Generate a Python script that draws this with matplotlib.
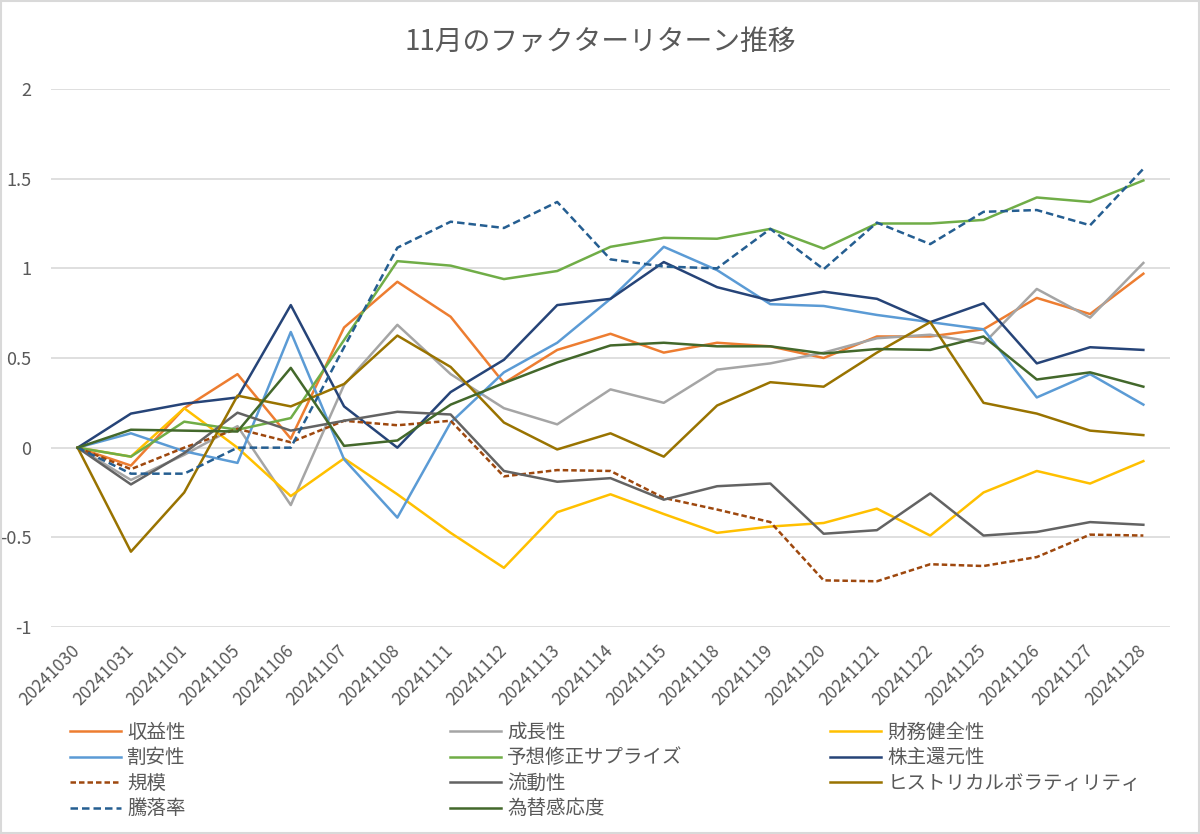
import matplotlib
matplotlib.use("Agg")
import matplotlib.pyplot as plt
from matplotlib.patches import Rectangle

plt.rcParams['font.family'] = ['Noto Sans CJK JP', 'DejaVu Sans']

dates = ['20241030', '20241031', '20241101', '20241105', '20241106', '20241107',
         '20241108', '20241111', '20241112', '20241113', '20241114', '20241115',
         '20241118', '20241119', '20241120', '20241121', '20241122', '20241125',
         '20241126', '20241127', '20241128']

# factor returns
shueki = [0, -0.10, 0.22, 0.41, 0.05, 0.67, 0.925, 0.73, 0.36, 0.545, 0.635,
          0.53, 0.585, 0.565, 0.50, 0.62, 0.62, 0.66, 0.835, 0.745, 0.97]
seicho = [0, -0.18, -0.04, 0.12, -0.32, 0.35, 0.685, 0.41, 0.22, 0.13, 0.325,
          0.25, 0.435, 0.47, 0.53, 0.61, 0.63, 0.58, 0.885, 0.725, 1.03]
zaimu = [0, -0.05, 0.22, 0.0, -0.27, -0.06, -0.26, -0.475, -0.67, -0.36, -0.26,
         -0.37, -0.475, -0.44, -0.42, -0.34, -0.49, -0.25, -0.13, -0.20, -0.075]
wariyasu = [0, 0.08, -0.02, -0.085, 0.645, -0.065, -0.39, 0.14, 0.42, 0.585, 0.83,
            1.12, 0.99, 0.80, 0.79, 0.74, 0.70, 0.66, 0.28, 0.41, 0.24]
yoso = [0, -0.05, 0.145, 0.10, 0.165, 0.60, 1.04, 1.015, 0.94, 0.985, 1.12,
        1.17, 1.165, 1.22, 1.11, 1.25, 1.25, 1.27, 1.395, 1.37, 1.49]
kabunushi = [0, 0.19, 0.245, 0.28, 0.795, 0.23, 0.0, 0.31, 0.49, 0.795, 0.83,
             1.035, 0.895, 0.82, 0.87, 0.83, 0.70, 0.805, 0.47, 0.56, 0.545]
kibo = [0, -0.12, 0.0, 0.105, 0.03, 0.15, 0.125, 0.15, -0.16, -0.125, -0.13,
        -0.28, -0.345, -0.415, -0.74, -0.745, -0.65, -0.66, -0.61, -0.485, -0.49]
ryudo = [0, -0.205, -0.03, 0.195, 0.095, 0.15, 0.20, 0.185, -0.13, -0.19, -0.17,
         -0.29, -0.215, -0.20, -0.48, -0.46, -0.255, -0.49, -0.47, -0.415, -0.43]
hv = [0, -0.58, -0.25, 0.29, 0.23, 0.355, 0.625, 0.45, 0.14, -0.01, 0.08,
      -0.05, 0.235, 0.365, 0.34, 0.53, 0.70, 0.25, 0.19, 0.095, 0.07]
toraku = [0, -0.145, -0.145, 0.0, 0.0, 0.56, 1.115, 1.26, 1.225, 1.37, 1.05,
          1.01, 1.0, 1.22, 0.995, 1.255, 1.135, 1.315, 1.325, 1.24, 1.555]
kawase = [0, 0.10, 0.095, 0.09, 0.445, 0.01, 0.04, 0.24, 0.36, 0.475, 0.57,
          0.585, 0.565, 0.565, 0.525, 0.55, 0.545, 0.62, 0.38, 0.42, 0.34]

series = [
    ('収益性', shueki, '#ED7D31', '-'),
    ('成長性', seicho, '#A5A5A5', '-'),
    ('財務健全性', zaimu, '#FFC000', '-'),
    ('割安性', wariyasu, '#5B9BD5', '-'),
    ('予想修正サプライズ', yoso, '#70AD47', '-'),
    ('株主還元性', kabunushi, '#264478', '-'),
    ('規模', kibo, '#9E480E', (0, (2.2, 1.2))),
    ('流動性', ryudo, '#636363', '-'),
    ('ヒストリカルボラティリティ', hv, '#997300', '-'),
    ('騰落率', toraku, '#255E91', (0, (3, 1.6))),
    ('為替感応度', kawase, '#43682B', '-'),
]

fig = plt.figure(figsize=(12, 8.34), dpi=100)
ax = fig.add_axes([0.0425, 0.2482, 0.9325, 0.6451])

x = list(range(len(dates)))
lines = []
for name, vals, col, ls in series:
    ln, = ax.plot(x, vals, color=col, lw=1.8, ls=ls, label=name)
    lines.append(ln)

ax.set_xlim(-0.5, len(dates) - 0.5)
ax.set_ylim(-1, 2)
ax.set_yticks([-1, -0.5, 0, 0.5, 1, 1.5, 2])
ax.yaxis.set_major_formatter(matplotlib.ticker.FormatStrFormatter('%g'))
ax.set_xticks(x)
ax.set_xticklabels(dates, rotation=45, ha='right', va='center', rotation_mode='anchor')
ax.tick_params(axis='x', length=0, pad=15, labelsize=12.5, labelcolor='#595959')
ax.tick_params(axis='y', length=0, pad=14, labelsize=13, labelcolor='#595959')
ax.grid(axis='y', color='#D9D9D9', lw=1.2)
ax.set_axisbelow(True)
for s in ax.spines.values():
    s.set_visible(False)

fig.text(0.5, 1 - 42 / 834, '11月のファクターリターン推移', ha='center', va='center',
         fontsize=20, color='#595959')

# legend laid out row by row in three columns
col_x = [70 / 1200, 450 / 1200, 830 / 1200]
for c in range(3):
    hs = lines[c::3]
    leg = fig.legend(handles=hs, labels=[h.get_label() for h in hs],
                     loc='upper left', bbox_to_anchor=(col_x[c], 1 - 722 / 834),
                     frameon=False, fontsize=14, handlelength=2.6, handletextpad=0.35,
                     labelspacing=0.23, borderpad=0, borderaxespad=0)
    for t in leg.get_texts():
        t.set_color('#595959')

fig.add_artist(Rectangle((0.001, 0.001), 0.998, 0.998, transform=fig.transFigure,
                         fill=False, edgecolor='#D9D9D9', lw=1.5))

fig.savefig('out.png', dpi=100)
